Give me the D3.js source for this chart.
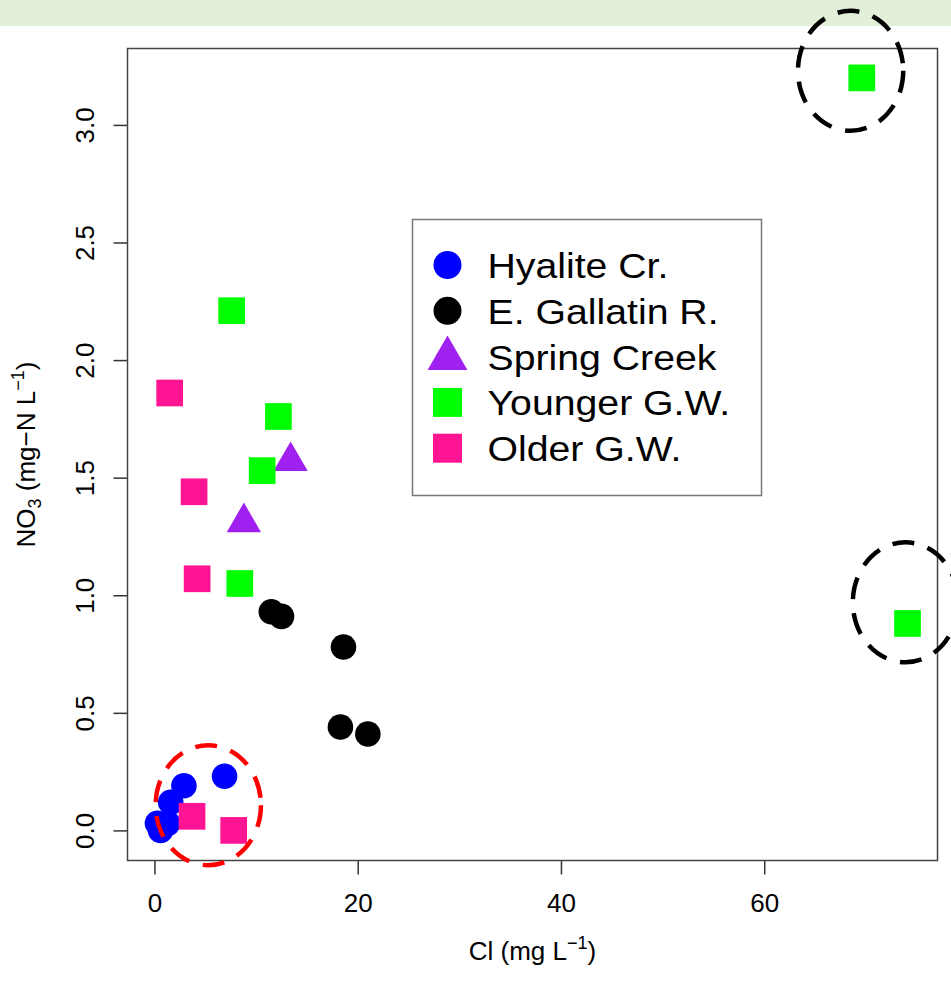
<!DOCTYPE html>
<html lang="en">
  <head>
    <meta charset="utf-8">
    <script src="https://d3js.org/d3.v7.min.js" charset="utf-8"></script>
    <title>NO3 vs Cl</title>
    <style>
      body { margin: 0; background: #fff; }
      svg text { font-family: "Liberation Sans", Arial, sans-serif; fill: #000; }
    </style>
  </head>
  <body>
    <div id="chart"></div>
    <script type="text/javascript">
      // series: Cl (mg/L) and NO3 (mg-N/L)
      var groups = ["Hyalite Cr.", "E. Gallatin R.", "Spring Creek", "Younger G.W.", "Older G.W."];
      var colors = ["#0000ff", "#000000", "#a020f0", "#00ff00", "#ff1493"];
      var shapes = ["circle", "circle", "triangle", "square", "square"];

      var hyaliteCl  = [0.3, 0.6, 1.3, 1.6, 2.9, 6.9];
      var hyaliteNO3 = [0.03, 0.0, 0.03, 0.12, 0.19, 0.23];
      var gallatinCl  = [11.5, 12.5, 18.6, 18.3, 21.0];
      var gallatinNO3 = [0.93, 0.91, 0.78, 0.44, 0.41];
      var springCl  = [13.4, 8.8];
      var springNO3 = [1.57, 1.31];
      var youngerCl  = [7.6, 12.2, 10.6, 8.4, 69.6, 74.1];
      var youngerNO3 = [2.21, 1.76, 1.53, 1.05, 3.20, 0.88];
      var olderCl  = [3.7, 7.8, 1.5, 3.9, 4.2];
      var olderNO3 = [0.06, 0.0, 1.86, 1.44, 1.07];

      var xTicks = [0, 20, 40, 60];
      var yTicks = [0, 0.5, 1.0, 1.5, 2.0, 2.5, 3.0];

      // dashed highlight rings: centre and radii in data units
      var ringCl  = [68.5, 73.9, 5.3];
      var ringNO3 = [3.23, 0.97, 0.107];
      var ringColors = ["#000000", "#000000", "#ff0000"];

      var seriesCl  = [hyaliteCl, gallatinCl, springCl, youngerCl, olderCl];
      var seriesNO3 = [hyaliteNO3, gallatinNO3, springNO3, youngerNO3, olderNO3];

      var width = 951, height = 987;
      var box = { left: 127.5, right: 937.5, top: 48.5, bottom: 860.5 };

      var svg = d3.select("#chart").append("svg")
          .attr("width", width)
          .attr("height", height);

      // pale green band across the top
      svg.append("rect")
          .attr("x", 0).attr("y", 0)
          .attr("width", width).attr("height", 26)
          .attr("fill", "#e2efd9");

      // R style 4% padding on the data range
      var x = d3.scaleLinear().domain([-2.65, 77.05]).range([box.left, box.right]);
      var y = d3.scaleLinear().domain([-0.128, 3.325]).range([box.bottom, box.top]);

      var xAxis = d3.axisBottom(x).tickValues(xTicks).tickSize(14).tickPadding(0).tickFormat(d3.format("d"));
      var yAxis = d3.axisLeft(y).tickValues(yTicks).tickSize(14).tickFormat(d3.format(".1f"));

      var gx = svg.append("g").attr("transform", "translate(0," + box.bottom + ")").call(xAxis);
      gx.select(".domain").remove();
      gx.selectAll(".tick line").attr("stroke", "#333").attr("stroke-width", 1.5);
      gx.selectAll(".tick text")
          .attr("y", 51).attr("dy", null)
          .style("font-size", "26px");

      var gy = svg.append("g").attr("transform", "translate(" + box.left + ",0)").call(yAxis);
      gy.select(".domain").remove();
      gy.selectAll(".tick line").attr("stroke", "#333").attr("stroke-width", 1.5);
      gy.selectAll(".tick text")
          .attr("x", null).attr("dy", null)
          .attr("text-anchor", "middle")
          .attr("transform", "translate(-34,0) rotate(-90)")
          .style("font-size", "26px");

      // plot frame
      svg.append("rect")
          .attr("x", box.left).attr("y", box.top)
          .attr("width", box.right - box.left).attr("height", box.bottom - box.top)
          .attr("fill", "none")
          .attr("stroke", "#444")
          .attr("stroke-width", 1.5);

      // axis titles
      var xl = svg.append("text")
          .attr("x", (box.left + box.right) / 2)
          .attr("y", 960)
          .attr("text-anchor", "middle")
          .style("font-size", "26px");
      xl.append("tspan").text("Cl (mg L");
      xl.append("tspan").attr("dy", -11).style("font-size", "18px").text("\u22121");
      xl.append("tspan").attr("dy", 11).text(")");

      var yl = svg.append("text")
          .attr("transform", "translate(35," + (box.top + box.bottom) / 2 + ") rotate(-90)")
          .attr("text-anchor", "middle")
          .style("font-size", "26px");
      yl.append("tspan").text("NO");
      yl.append("tspan").attr("dy", 6).style("font-size", "18px").text("3");
      yl.append("tspan").attr("dy", -6).text(" (mg\u2212N L");
      yl.append("tspan").attr("dy", -11).style("font-size", "18px").text("\u22121");
      yl.append("tspan").attr("dy", 11).text(")");

      function symbolPath(shape, big) {
        if (shape === "circle") return d3.symbol().type(d3.symbolCircle).size(Math.PI * Math.pow(big ? 14 : 12.8, 2))();
        if (shape === "square") return d3.symbol().type(d3.symbolSquare).size(Math.pow(big ? 29 : 26.7, 2))();
        return d3.symbol().type(d3.symbolTriangle).size(big ? 690 : 510)();
      }

      var plot = svg.append("g");
      groups.forEach(function (g, i) {
        var pts = seriesCl[i].map(function (c, j) { return { cl: c, no3: seriesNO3[i][j] }; });
        plot.selectAll(null)
            .data(pts)
            .enter().append("path")
            .attr("d", symbolPath(shapes[i], false))
            .attr("transform", function (d) { return "translate(" + x(d.cl) + "," + y(d.no3) + ")"; })
            .attr("fill", colors[i]);
      });

      // dashed rings
      var rx = 5.18, ry = 0.255;
      svg.append("g").selectAll("ellipse")
          .data(ringCl)
          .enter().append("ellipse")
          .attr("cx", function (d) { return x(d); })
          .attr("cy", function (d, i) { return y(ringNO3[i]); })
          .attr("rx", x(rx) - x(0))
          .attr("ry", y(0) - y(ry))
          .attr("fill", "none")
          .attr("stroke", function (d, i) { return ringColors[i]; })
          .attr("stroke-width", 4.5)
          .attr("stroke-dasharray", "22,14");

      // legend
      var lg = svg.append("g").attr("transform", "translate(412.5,219.5)");
      lg.append("rect")
          .attr("width", 349).attr("height", 276)
          .attr("fill", "#fff")
          .attr("stroke", "#777")
          .attr("stroke-width", 1.5);
      groups.forEach(function (g, i) {
        var cy = 45.5 + i * 45.8;
        lg.append("path")
            .attr("d", symbolPath(shapes[i], true))
            .attr("transform", "translate(35," + (cy + (shapes[i] === "triangle" ? 2 : 0)) + ")")
            .attr("fill", colors[i]);
        lg.append("text")
            .attr("transform", "translate(75," + (cy + 13) + ") scale(1.09,1)")
            .style("font-size", "36px")
            .text(g);
      });
    </script>
  </body>
</html>
